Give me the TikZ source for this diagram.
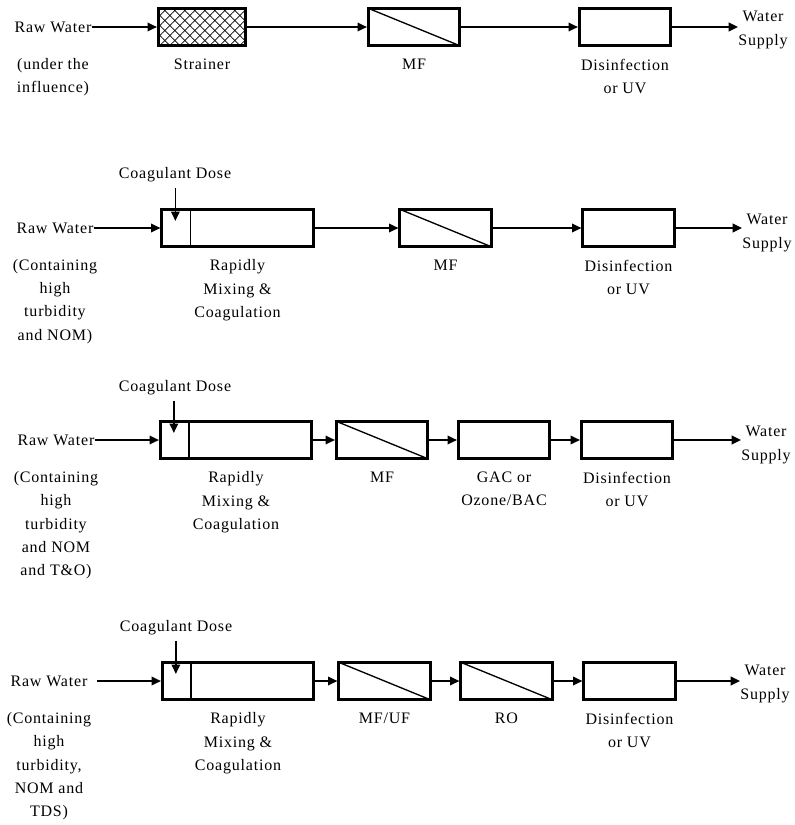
\documentclass[tikz,border=0pt]{standalone}
\usepackage{fontspec}
\setmainfont{Liberation Serif}[LetterSpace=5]
\usetikzlibrary{arrows.meta,positioning,patterns.meta}

\begin{document}
\begin{tikzpicture}[
  x=0.75pt, y=-0.75pt,
  font=\fontsize{12}{17.5}\selectfont,
  node distance=8.5pt,
  unit/.style={draw, line width=2.2pt, minimum width=#1, minimum height=28pt, inner sep=0pt},
  unit/.default=68.5pt,
  membrane/.style={path picture={\draw[line width=1pt] (path picture bounding box.north west) -- (path picture bounding box.south east);}},
  screen/.style={
    preaction={pattern={Lines[angle=45,distance=5.3pt,line width=0.6pt]}},
    preaction={pattern={Lines[angle=-45,distance=5.3pt,line width=0.6pt]}}
  },
  mixer/.style={path picture={\draw[line width=1pt] ([xshift=21.4pt]path picture bounding box.north west) -- ([xshift=21.4pt]path picture bounding box.south west);}},
  tag/.style={align=center, inner sep=0pt},
  flow/.style={-{Triangle[length=7pt,width=6.5pt]}, line width=1.1pt}
]
  \useasboundingbox (0,0) rectangle (795,825);

  % row 1: water under the influence
  \node[tag] (rw1) at (53,27) {Raw Water};
  \node[tag, below=19pt of rw1] (src1) {(under the\\influence)};
  \node[unit=65.5pt, screen] (strainer1) at (202,27) {};
  \node[tag, below=of strainer1] {Strainer};
  \node[unit, membrane] (mf1) at (414,27) {};
  \node[tag, below=of mf1] {MF};
  \node[unit] (dis1) at (625,27) {};
  \node[tag, below=of dis1] {Disinfection\\or UV};
  \node[tag] (ws1) at (763,30) {Water\\Supply};
  \draw[flow] (rw1.east) -- (strainer1.west);
  \draw[flow] (strainer1) -- (mf1);
  \draw[flow] (mf1) -- (dis1);
  \draw[flow] (dis1.east) -- (dis1.east -| ws1.west);

  % row 2: high turbidity and NOM
  \node[tag] (rw2) at (55,228) {Raw Water};
  \node[tag, below=19pt of rw2] (src2) {(Containing\\high\\turbidity\\and NOM)};
  \node[unit=113.5pt, mixer] (coag2) at (237.5,228) {};
  \node[tag, below=of coag2] {Rapidly\\Mixing \&\\Coagulation};
  \node[tag] (dose2) at (175,175) {Coagulant Dose};
  \coordinate (drop2) at ([shift={(15,13)}]coag2.north west);
  \node[unit, membrane] (mf2) at (445.5,228) {};
  \node[tag, below=of mf2] {MF};
  \node[unit] (dis2) at (628.5,228) {};
  \node[tag, below=of dis2] {Disinfection\\or UV};
  \node[tag] (ws2) at (767,233) {Water\\Supply};
  \draw[flow] (rw2.east) -- (coag2.west);
  \draw[flow, shorten <=4pt] (dose2.south -| drop2) -- (drop2);
  \draw[flow] (coag2) -- (mf2);
  \draw[flow] (mf2) -- (dis2);
  \draw[flow] (dis2.east) -- (dis2.east -| ws2.west);

  % row 3: high turbidity, NOM and T&O
  \node[tag] (rw3) at (56,440) {Raw Water};
  \node[tag, below=19pt of rw3] (src3) {(Containing\\high\\turbidity\\and NOM\\and T\&O)};
  \node[unit=113.5pt, mixer] (coag3) at (236,440) {};
  \node[tag, below=of coag3] {Rapidly\\Mixing \&\\Coagulation};
  \node[tag] (dose3) at (175,388) {Coagulant Dose};
  \coordinate (drop3) at ([shift={(15,13)}]coag3.north west);
  \node[unit, membrane] (mf3) at (382,440) {};
  \node[tag, below=of mf3] {MF};
  \node[unit] (gac3) at (504,440) {};
  \node[tag, below=of gac3] {GAC or\\Ozone/BAC};
  \node[unit] (dis3) at (627,440) {};
  \node[tag, below=of dis3] {Disinfection\\or UV};
  \node[tag] (ws3) at (766,445) {Water\\Supply};
  \draw[flow] (rw3.east) -- (coag3.west);
  \draw[flow, shorten <=4pt] (dose3.south -| drop3) -- (drop3);
  \draw[flow] (coag3) -- (mf3);
  \draw[flow] (mf3) -- (gac3);
  \draw[flow] (gac3) -- (dis3);
  \draw[flow] (dis3.east) -- (dis3.east -| ws3.west);

  % row 4: high turbidity, NOM and TDS
  \node[tag] (rw4) at (49,681) {Raw Water};
  \node[tag, below=19pt of rw4] (src4) {(Containing\\high\\turbidity,\\NOM and\\TDS)};
  \node[unit=113.5pt, mixer] (coag4) at (238,681) {};
  \node[tag, below=of coag4] {Rapidly\\Mixing \&\\Coagulation};
  \node[tag] (dose4) at (176,628) {Coagulant Dose};
  \coordinate (drop4) at ([shift={(15,13)}]coag4.north west);
  \node[unit, membrane] (mf4) at (384.5,681) {};
  \node[tag, below=of mf4] {MF/UF};
  \node[unit, membrane] (ro4) at (506.5,681) {};
  \node[tag, below=of ro4] {RO};
  \node[unit] (dis4) at (629.5,681) {};
  \node[tag, below=of dis4] {Disinfection\\or UV};
  \node[tag] (ws4) at (765,684) {Water\\Supply};
  \draw[flow, shorten <=7pt] (rw4.east) -- (coag4.west);
  \draw[flow, shorten <=4pt] (dose4.south -| drop4) -- (drop4);
  \draw[flow] (coag4) -- (mf4);
  \draw[flow] (mf4) -- (ro4);
  \draw[flow] (ro4) -- (dis4);
  \draw[flow] (dis4.east) -- (dis4.east -| ws4.west);
\end{tikzpicture}
\end{document}
